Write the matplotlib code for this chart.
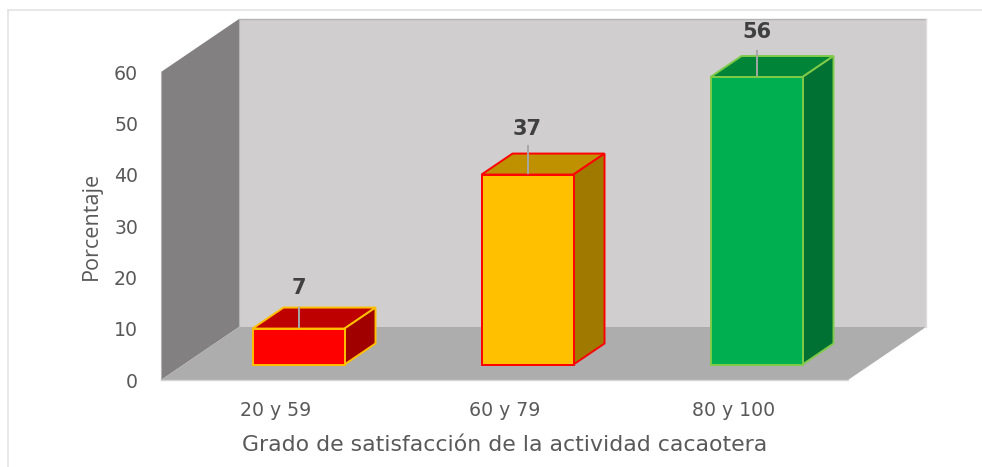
import matplotlib
matplotlib.use("Agg")
import matplotlib.pyplot as plt
from matplotlib.patches import Polygon
from matplotlib.lines import Line2D

categories = ["20 y 59", "60 y 79", "80 y 100"]
values = [7, 37, 56]
y_ticks = [0, 10, 20, 30, 40, 50, 60]

front_colors = ["#ff0000", "#ffc000", "#00b050"]
top_colors = ["#bf0000", "#bf9000", "#008437"]
side_colors = ["#a00000", "#a07a00", "#007033"]
edge_colors = ["#ffc000", "#ff0000", "#7ecb48"]
leader_px = [22, 30, 27]
label_px = [41, 46, 45]

plt.rcParams["font.family"] = ["DejaVu Sans"]
W, H = 982, 467
fig = plt.figure(figsize=(W / 100, H / 100), dpi=100, facecolor="white")
ax = fig.add_axes([161 / W, (H - 380) / H, 687 / W, 308 / H])
ax.set_xlim(0, 3)
ax.set_ylim(0, 60)
ax.patch.set_visible(False)
for s in ax.spines.values():
    s.set_visible(False)

px = 3 / 687
py = 60 / 308
wd, wh = 78 * px, 53 * py      # wall depth
bd, bh = 31 * px, 21 * py      # bar depth
base = 15.5 * py
shift = 23 * px
bw = 92 * px


def poly(pts, fc, ec="none", lw=0, z=1):
    ax.add_patch(Polygon(pts, closed=True, facecolor=fc, edgecolor=ec, linewidth=lw,
                         zorder=z, clip_on=False, joinstyle="miter"))


# walls and floor
poly([(wd, wh), (3 + wd, wh), (3 + wd, 60 + wh), (wd, 60 + wh)], "#d0cecf", z=1)
poly([(0, 0), (wd, wh), (wd, 60 + wh), (0, 60)], "#828081", z=1)
poly([(0, 0), (wd, wh), (3 + wd, wh), (3, 0)], "#adadad", z=1)
ax.plot([wd, 3 + wd], [60 + wh, 60 + wh], color="#b4b4b4", lw=1, zorder=1.5, clip_on=False)
ax.plot([wd, wd], [wh, 60 + wh], color="#b4b4b4", lw=0.8, zorder=1.5, clip_on=False)
ax.plot([0, 0], [0, 60], color="#b4b4b4", lw=0.8, zorder=1.5, clip_on=False)
ax.plot([0, 3], [0, 0], color="#d4d4d4", lw=1, zorder=1.5, clip_on=False)
ax.plot([3 + wd, 3 + wd], [wh, 60 + wh], color="#dcdcdc", lw=1, zorder=1.5, clip_on=False)

# bars
for i, v in enumerate(values):
    x0 = i + 0.5 + shift - bw / 2
    x1 = x0 + bw
    y0 = base
    y1 = base + v
    ec = edge_colors[i]
    lw = 1.4
    poly([(x0, y1), (x1, y1), (x1 + bd, y1 + bh), (x0 + bd, y1 + bh)], top_colors[i], ec, lw, z=3)
    poly([(x1, y0), (x1 + bd, y0 + bh), (x1 + bd, y1 + bh), (x1, y1)], side_colors[i], ec, lw, z=3)
    poly([(x0, y0), (x1, y0), (x1, y1), (x0, y1)], front_colors[i], ec, lw, z=4)
    xc = (x0 + x1) / 2
    ax.plot([xc, xc], [y1, y1 + leader_px[i] * py], color="#a6a6a6", lw=1.4, zorder=3.5,
            solid_capstyle="butt", clip_on=False)
    ax.text(xc, y1 + label_px[i] * py, str(v), ha="center", va="center", fontsize=15,
            fontweight="bold", color="#404040", zorder=6)

ax.set_yticks(y_ticks)
ax.set_xticks([i + 0.5 for i in range(len(categories))])
ax.set_xticklabels(categories)
ax.tick_params(axis="y", length=0, pad=16.5, labelsize=13.6, labelcolor="#595959")
ax.tick_params(axis="x", length=0, pad=15, labelsize=13.6, labelcolor="#595959")

fig.text(505 / W, 1 - 445 / H, "Grado de satisfacción de la actividad cacaotera",
         ha="center", va="center", fontsize=15.8, color="#595959")
fig.text(91 / W, 1 - 226 / H, "Porcentaje", rotation=90, ha="center", va="center",
         fontsize=15.6, color="#595959", family="Open Sans")

# outer chart frame
fig.add_artist(Line2D([8 / W, 8 / W], [0, 1 - 10 / H], color="#e4e4e4", lw=1.2))
fig.add_artist(Line2D([8 / W, 1], [1 - 10 / H, 1 - 10 / H], color="#e4e4e4", lw=1.2))

fig.savefig("out.png", dpi=100, facecolor="white")
